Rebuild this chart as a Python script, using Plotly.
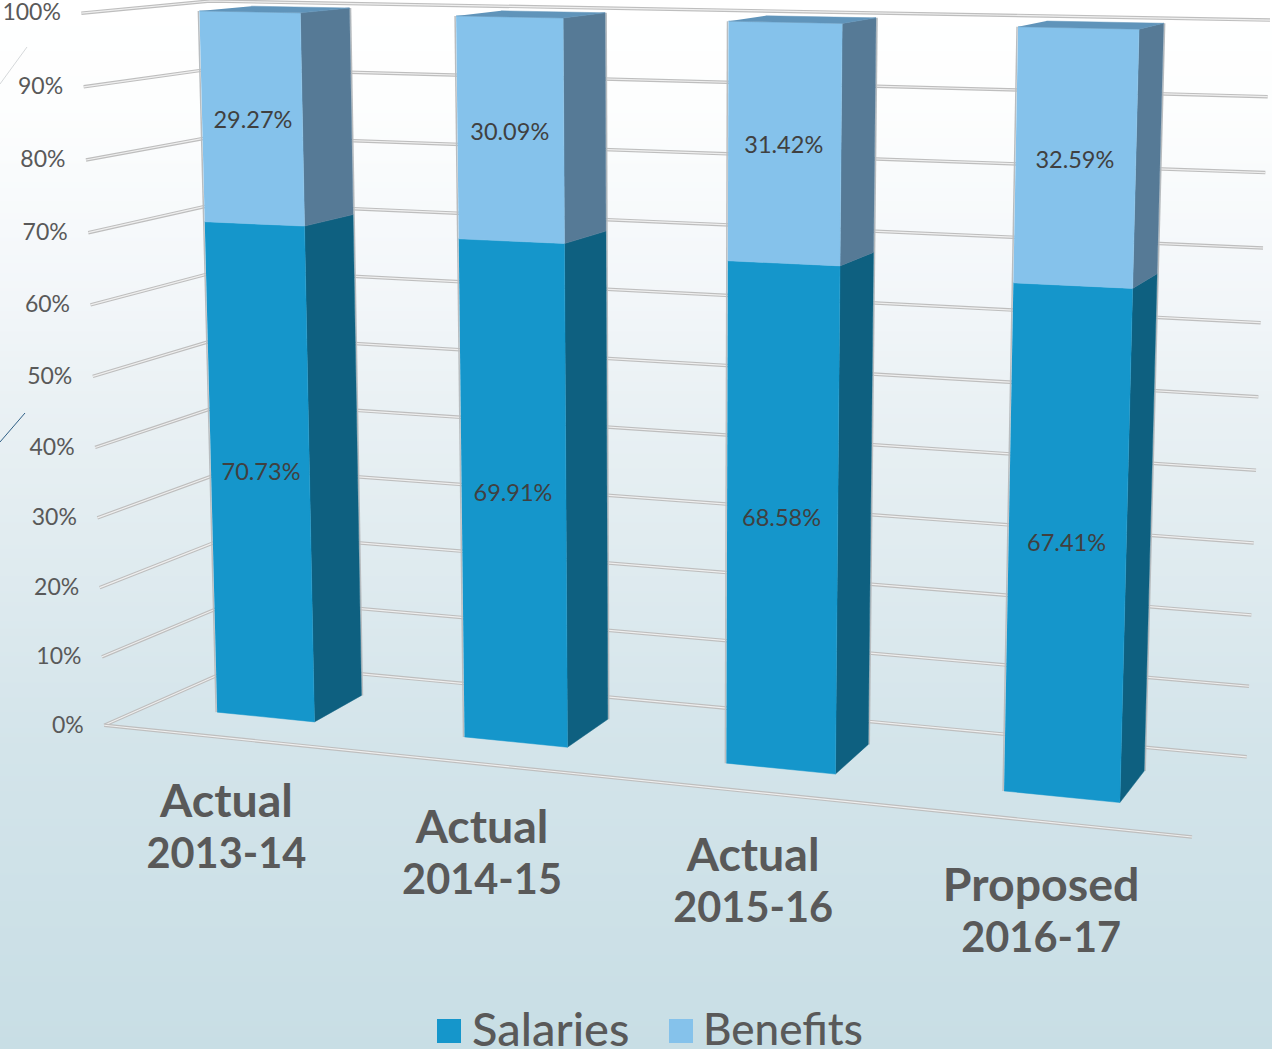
import numpy as np
import plotly.graph_objects as go

# ---- data ----
categories = [["Actual", "2013-14"], ["Actual", "2014-15"], ["Actual", "2015-16"], ["Proposed", "2016-17"]]
salaries = [70.73, 69.91, 68.58, 67.41]
benefits = [29.27, 30.09, 31.42, 32.59]
tick_values = [0, 10, 20, 30, 40, 50, 60, 70, 80, 90, 100]

# ---- projection calibration: chart-space coordinates -> page pixel ----
BAR_W = 0.10
BAR_Z = (0.295, 0.68)
BAR_SHIFT = -0.004
front_left = [(105,725),(102,657),(100,588),(97,518),(95,447),(92,376),(90,305),(88,233),(86,160),(84,87),(82,13)]
back_right = [(1247,757),(1249,686),(1251,615),(1254,543),(1256,470),(1258,397),(1261,323),(1263,248),(1265,172),(1268,97),(1270,20)]
back_left_values = [0, 50, 100]
back_left = [(245, 663), (227.5, 336), (210, 1)]
front_right_floor = (1192, 837)

bar_pix = [
    [(199,11),(301,12),(350,8),(217,713),(315,721),(361,696)],
    [(456,16),(563,18),(605,13),(464,738),(568,747),(608,718)],
    [(728,21),(842,24),(876,18),(726,763),(836,774),(868,744)],
    [(1017,27),(1140,29),(1164,23),(1004,791),(1120,802),(1144,772)],
]
bar_calib = []
for i, pix in enumerate(bar_pix):
    c = (i + 0.5) / 4 + BAR_SHIFT
    a, b = c - BAR_W / 2, c + BAR_W / 2
    z0, z1 = BAR_Z
    pts = [(a,100,z0),(b,100,z0),(b,100,z1),(a,0,z0),(b,0,z0),(b,0,z1)]
    bar_calib += list(zip(pts, pix))

def solve(calib):
    """Projective map from coordinate tuples to page pixels (iteratively reweighted DLT)."""
    W = np.array([list(coords) + [1.0] for coords, _ in calib])
    weights = np.ones(len(calib))
    P = None
    for _ in range(8):
        A = []
        for w, wt, (_, (u, v)) in zip(W, weights, calib):
            A.append(np.r_[w, np.zeros(len(w)), -u / 1000 * w] / wt)
            A.append(np.r_[np.zeros(len(w)), w, -v / 1000 * w] / wt)
        P = np.linalg.svd(np.array(A))[2][-1].reshape(3, -1)
        weights = W @ P[2]
    return P

def apply(P, coords):
    q = P @ np.array(list(coords) + [1.0])
    return q[0] / q[2] * 1000, q[1] / q[2] * 1000

P_BAR = solve([((X, Y / 100, Z), p) for (X, Y, Z), p in bar_calib])

# value scales along the wall edges
def edge_scale(values, pixels, deg):
    px = np.array(pixels, float)
    fx, fy = np.polyfit(values, px[:, 0], 1), np.polyfit(values, px[:, 1], deg)
    return lambda v: (float(np.polyval(fx, v)), float(np.polyval(fy, v)))

scale_front = edge_scale(tick_values, front_left, 3)
scale_back = edge_scale(tick_values, back_right, 3)
scale_corner = edge_scale(back_left_values, back_left, 2)

def project(X, Y, Z):
    return apply(P_BAR, (X, Y / 100, Z))

def poly(points):
    xy = [project(*p) for p in points]
    return [a for a, _ in xy], [b for _, b in xy]

# ---- styles ----
FONT = "Lato"
COL = {
    "Salaries": dict(front="#1596CB", side="#0E6080", top="#0E6080"),
    "Benefits": dict(front="#85C2EB", side="#567A96", top="#6094BA"),
}
fig = go.Figure()

# background gradient
ys = np.arange(0, 1054, 4)
stops = [(0, "#FFFFFF"), (100/1050, "#FDFEFE"), (300/1050, "#F2F6F9"), (400/1050, "#EAF1F4"),
         (750/1050, "#D3E4EA"), (1, "#C8DEE5")]
fig.add_trace(go.Heatmap(x=[0, 1272], y=ys, z=np.c_[ys, ys], colorscale=stops, zmin=0, zmax=1050,
                         showscale=False, hoverinfo="skip", zsmooth="best"))

def line(xs, ys, color, width):
    fig.add_trace(go.Scatter(x=xs, y=ys, mode="lines", line=dict(color=color, width=width),
                             hoverinfo="skip", showlegend=False))

# stray decorative strokes at the left edge of the reference
line([0, 27], [84, 47], "#D5D8DA", 1)
line([0, 25], [442, 413], "#2F5F85", 1)

# gridlines: left wall + back wall, and the floor's front edge
for v in tick_values:
    pts = [scale_front(v), scale_corner(v), scale_back(v)]
    x, y = [p[0] for p in pts], [p[1] for p in pts]
    line(x, y, "#BEBEBE", 3.5)
    line(x, y, "#EFEFEF", 1.2)
a = scale_front(0)
x, y = [a[0], front_right_floor[0]], [a[1], front_right_floor[1]]
line(x, y, "#BEBEBE", 3.5)
line(x, y, "#EFEFEF", 1.2)

def face(points, color, name):
    x, y = poly(points)
    fig.add_trace(go.Scatter(x=x, y=y, mode="lines", fill="toself", fillcolor=color,
                             line=dict(color=color, width=0.5), name=name,
                             hoverinfo="name", showlegend=False))

# bars
z0, z1 = BAR_Z
for i in range(len(categories)):
    c = (i + 0.5) / len(categories) + BAR_SHIFT
    x0, x1 = c - BAR_W / 2, c + BAR_W / 2
    total = salaries[i] + benefits[i]
    # silhouette edges
    ex, ey = poly([(x0, 0, z0), (x0, total, z0)])
    line(np.array(ex) - 1, ey, "#B9BDC0", 1.5)
    ex, ey = poly([(x1, 0, z1), (x1, total, z1)])
    line(np.array(ex) + 1, ey, "#B9BDC0", 1.5)
    base = 0
    for name, vals in (("Salaries", salaries), ("Benefits", benefits)):
        top = base + vals[i]
        s = COL[name]
        face([(x1, base, z0), (x1, base, z1), (x1, top, z1), (x1, top, z0)], s["side"], name)
        face([(x0, base, z0), (x1, base, z0), (x1, top, z0), (x0, top, z0)], s["front"], name)
        if name == "Benefits":
            face([(x0, top, z0), (x1, top, z0), (x1, top, z1), (x0, top, z1)], s["top"], name)
        base = top

def text(xs, ys, labels, size, color, pos="middle center", weight=400):
    fig.add_trace(go.Scatter(x=xs, y=ys, mode="text", text=labels, textposition=pos,
                             textfont=dict(family=FONT, size=size, color=color, weight=weight),
                             hoverinfo="skip", showlegend=False, cliponaxis=False))

# value-axis tick labels
tx, ty = zip(*[scale_front(v) for v in tick_values])
text([a - 20.5 for a in tx], [b + 1.5 for b in ty], [f"{v}%" for v in tick_values], 23, "#595959", "middle left")

# data labels
for vals, offs, dy in ((salaries, [0 for _ in salaries], 0.5), (benefits, salaries, 4)):
    lx, ly, lt = [], [], []
    for i, v in enumerate(vals):
        c = (i + 0.5) / len(categories) + BAR_SHIFT
        px, py = project(c, offs[i] + v / 2, z0)
        lx.append(px + (1 if i == 0 else -0.5)); ly.append(py + dy); lt.append(f"{v:.2f}%")
    text(lx, ly, lt, 23.5, "#404040")

# category labels
for i, (l1, l2) in enumerate(categories):
    px, py = project((i + 0.5) / len(categories), 0, 0)
    text([px - 4], [py + 66.5], [l1], 46.5, "#595959", weight=700)
    text([px - 4], [py + 119], [l2], 41.5, "#595959", weight=700)

# legend
fig.add_trace(go.Scatter(x=[449, 681], y=[1031, 1031], mode="markers",
                         marker=dict(symbol="square", size=24, color=[COL["Salaries"]["front"], COL["Benefits"]["front"]]),
                         hoverinfo="skip", showlegend=False))
text([472], [1034], ["Salaries"], 47, "#595959", "middle right", 500)
text([703], [1034], ["Benefits"], 44, "#595959", "middle right", 500)

fig.update_layout(width=1272, height=1049, margin=dict(l=0, r=0, t=0, b=0), showlegend=False,
                  paper_bgcolor="#FFFFFF", plot_bgcolor="#FFFFFF",
                  xaxis=dict(range=[0, 1272], visible=False, fixedrange=True),
                  yaxis=dict(range=[1049, 0], visible=False, fixedrange=True))
fig.write_html("out.html", config={"displayModeBar": False},
               post_script="document.body.style.margin='0';document.body.style.overflow='hidden';")
